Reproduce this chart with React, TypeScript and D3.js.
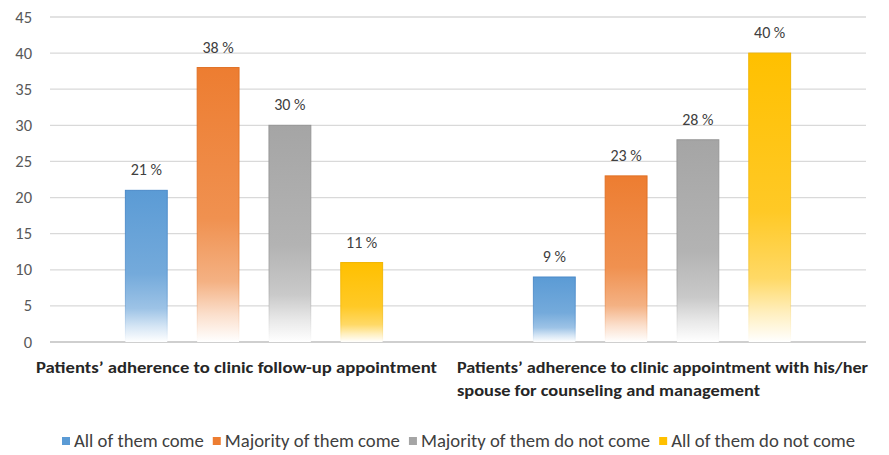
import React, { useEffect, useRef } from "react";
import * as d3 from "d3";

const categories = [
  ["Patients’ adherence to clinic follow-up appointment"],
  ["Patients’ adherence to clinic appointment with his/her", "spouse for counseling and management"],
];
const seriesNames = [
  "All of them come",
  "Majority of them come",
  "Majority of them do not come",
  "All of them do not come",
];
const seriesValues = [
  [21, 9],
  [38, 23],
  [30, 28],
  [11, 40],
];
const yTicks = [0, 5, 10, 15, 20, 25, 30, 35, 40, 45];
const colors = ["#5B9BD5", "#ED7D31", "#A5A5A5", "#FFC000"];
const strokes = ["#4A89C8", "#E06F22", "#959595", "#F0B400"];

const W = 889;
const H = 455;
const FONT = "Carlito, Calibri, Lato, 'Liberation Sans', Arial, sans-serif";

export default function App() {
  const ref = useRef<SVGSVGElement | null>(null);

  useEffect(() => {
    const svg = d3.select(ref.current);
    svg.selectAll("*").remove();

    const x0 = d3.scaleBand<number>().domain([0, 1]).range([50, 866]).paddingInner(0).paddingOuter(0);
    const x1 = d3
      .scaleBand<number>()
      .domain([0, 1, 2, 3])
      .range([0, x0.bandwidth()])
      .paddingInner(30 / 72)
      .paddingOuter(0.75 + 0.3);
    const y = d3.scaleLinear().domain([0, 45]).range([342, 17]);

    const defs = svg.append("defs");
    colors.forEach((c, i) => {
      const g = defs
        .append("linearGradient")
        .attr("id", "g" + i)
        .attr("x1", 0)
        .attr("y1", 0)
        .attr("x2", 0)
        .attr("y2", 1);
      const mix = (t: number) => d3.interpolateRgb(c, "#ffffff")(t);
      [
        [0, 0],
        [0.55, 0.15],
        [0.78, 0.4],
        [0.9, 0.75],
        [1, 1],
      ].forEach(([o, t]) => g.append("stop").attr("offset", o).attr("stop-color", mix(t)));
      const gs = defs
        .append("linearGradient")
        .attr("id", "s" + i)
        .attr("x1", 0)
        .attr("y1", 0)
        .attr("x2", 0)
        .attr("y2", 1);
      [
        [0, 1],
        [0.7, 0.6],
        [1, 0],
      ].forEach(([o, a]) =>
        gs.append("stop").attr("offset", o).attr("stop-color", strokes[i]).attr("stop-opacity", a)
      );
    });

    // gridlines
    svg
      .append("g")
      .selectAll("line")
      .data(yTicks)
      .join("line")
      .attr("x1", 50)
      .attr("x2", 866)
      .attr("y1", (d) => y(d))
      .attr("y2", (d) => y(d))
      .attr("stroke", (d) => (d === 0 ? "#BFBFBF" : "#D9D9D9"))
      .attr("stroke-width", 1.3);

    // y tick labels
    svg
      .append("g")
      .selectAll("text")
      .data(yTicks)
      .join("text")
      .attr("x", 32)
      .attr("y", (d) => y(d) + 5.5)
      .attr("text-anchor", "end")
      .attr("font-family", FONT)
      .attr("font-size", 16.5)
      .attr("fill", "#595959")
      .text((d) => d);

    // bars
    seriesValues.forEach((vals, si) => {
      const g = svg.append("g");
      g.selectAll("rect")
        .data(vals)
        .join("rect")
        .attr("x", (_, ci) => (x0(ci) as number) + (x1(si) as number))
        .attr("y", (d) => y(d))
        .attr("width", x1.bandwidth())
        .attr("height", (d) => y(0) - y(d))
        .attr("fill", `url(#g${si})`)
        .attr("stroke", `url(#s${si})`)
        .attr("stroke-width", 1);
      g.selectAll("text")
        .data(vals)
        .join("text")
        .attr("x", (_, ci) => (x0(ci) as number) + (x1(si) as number) + x1.bandwidth() / 2)
        .attr("y", (d) => y(d) - 15)
        .attr("text-anchor", "middle")
        .attr("font-family", FONT)
        .attr("font-size", 16)
        .attr("fill", "#404040")
        .text((d) => `${d} %`);
    });

    // category labels
    const catOffsets = [-14, -1];
    const lineWidths = [[401], [411, 303]];
    categories.forEach((lines, ci) => {
      lines.forEach((ln, li) => {
        svg
          .append("text")
          .attr("x", (x0(ci) as number) + catOffsets[ci])
          .attr("y", 373 + li * 23)
          .attr("font-family", FONT)
          .attr("font-weight", "bold")
          .attr("font-size", 16)
          .attr("fill", "#262626")
          .attr("textLength", lineWidths[ci][li])
          .attr("lengthAdjust", "spacingAndGlyphs")
          .text(ln);
      });
    });

    // legend
    const leg = svg.append("g");
    const items = leg.selectAll("g").data(seriesNames).join("g");
    items
      .append("rect")
      .attr("width", 8)
      .attr("height", 8)
      .attr("y", -10)
      .attr("fill", (_, i) => colors[i]);
    const texts = items
      .append("text")
      .attr("x", 12)
      .attr("font-family", FONT)
      .attr("font-size", 16)
      .attr("fill", "#404040")
      .text((d) => d);
    const widths: number[] = [];
    texts.each(function () {
      widths.push((this as SVGTextElement).getComputedTextLength());
    });
    const gap = 9;
    const total = d3.sum(widths.map((w) => w + 12)) + gap * (widths.length - 1);
    const target = 793;
    const k = (target - 12 * 4 - gap * 3) / (total - 12 * 4 - gap * 3);
    texts.attr("font-size", 16 * k);
    let cx = 62;
    items.attr("transform", (_, i) => {
      const t = `translate(${cx},447)`;
      cx += widths[i] * k + 12 + gap;
      return t;
    });
  }, []);

  return (
    <svg
      ref={ref}
      width={W}
      height={H}
      style={{ display: "block", background: "#fff", position: "absolute", left: 0, top: 0 }}
    />
  );
}
